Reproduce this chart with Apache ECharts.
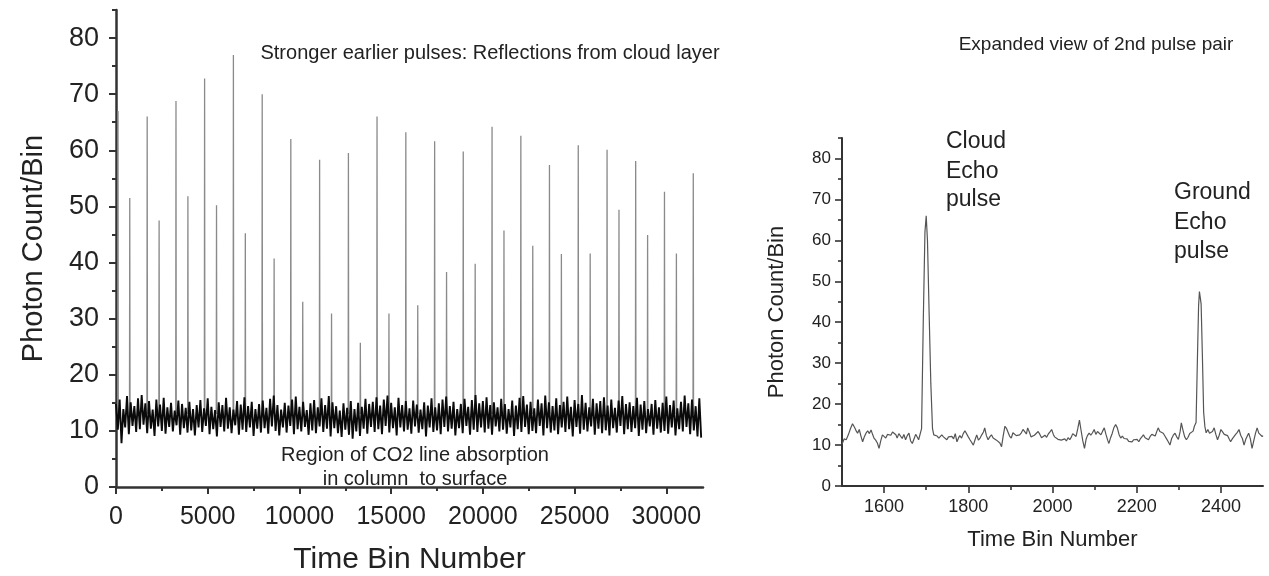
<!DOCTYPE html>
<html><head><meta charset="utf-8">
<script src="https://cdn.jsdelivr.net/npm/echarts@6.0.0/dist/echarts.min.js"></script>
<style>html,body{margin:0;padding:0;background:#fff}#c{width:1269px;height:576px}</style>
</head><body><div id="c"></div>
<script>
// ---------------- DATA ----------------
// Left panel: pulse positions (time bin) and peak photon counts
const cloudBins  = [110, 1700, 3270, 4830, 6400, 7970, 9530, 11100, 12670, 14230, 15800, 17370, 18930, 20500, 22070, 23630, 25200, 26770, 28330, 29900, 31470];
const cloudPeaks = [67, 66, 68.8, 72.8, 77, 70, 62, 58.3, 59.5, 66, 63.2, 61.6, 59.8, 64.2, 62.6, 57.4, 60.9, 60.1, 58.1, 52.6, 55.9];
const groundBins  = [750, 2350, 3920, 5480, 7050, 8620, 10180, 11750, 13320, 14880, 16450, 18020, 19580, 21150, 22720, 24280, 25850, 27420, 28980, 30550];
const groundPeaks = [51.5, 47.5, 51.8, 50.2, 45.2, 40.7, 33, 30.9, 25.7, 30.9, 32.4, 38.3, 39.8, 45.7, 43, 41.5, 41.6, 49.4, 44.9, 41.6];
const pulseBase = 13;
const pulseHalfWidth = 15;

// Left panel: background noise, upper and lower excursions (estimated), one pair per 200 bins
const noiseBinStep = 200;
const noiseHigh = [
 14.8, 15.6, 13.9, 16.2, 15.1, 14.4, 15.8, 16.4, 14.9, 15.3, 13.8, 15.6, 14.7, 15.9, 14.2, 15.0, 13.6, 15.4, 14.8, 14.1,
 15.2, 13.9, 14.6, 15.5, 14.0, 15.8, 14.3, 13.7, 15.1, 14.6, 15.9, 14.2, 13.8, 15.3, 14.7, 16.0, 14.4, 15.2, 13.9, 14.8,
 15.4, 14.1, 15.7, 16.3, 14.6, 13.8, 15.0, 14.5, 15.6, 16.1, 14.3, 15.2, 13.7, 14.9, 15.5, 14.2, 15.8, 14.6, 16.2, 15.1,
 14.4, 13.6, 14.9, 14.1, 15.3, 13.9, 15.0, 14.3, 15.7, 14.8, 15.2, 16.0, 14.5, 15.6, 16.3, 15.0, 14.2, 15.9, 14.6, 15.3,
 14.0, 15.4, 14.7, 13.8, 15.1, 14.5, 15.8, 14.2, 14.9, 15.6, 16.1, 14.4, 15.2, 13.9, 14.8, 15.7, 14.3, 15.5, 16.4, 14.9,
 15.3, 16.0, 14.6, 15.1, 14.2, 15.7, 14.8, 13.9, 15.4, 14.5, 15.9, 16.2, 14.7, 15.2, 14.0, 15.6, 14.9, 16.3, 15.1, 14.4,
 15.8, 14.6, 15.2, 16.1, 14.3, 15.5, 14.8, 16.4, 15.0, 14.2, 15.7, 14.9, 15.3, 16.0, 14.5, 15.6, 14.1, 15.4, 16.2, 14.8,
 15.1, 14.4, 15.9, 14.7, 15.3, 13.9, 14.8, 15.5, 14.2, 15.0, 16.1, 14.6, 15.4, 14.0, 15.2, 16.3, 14.9, 15.6, 14.4, 15.8
];
const noiseLow = [
 10.2, 7.8, 10.6, 9.4, 10.9, 9.8, 10.3, 11.1, 9.6, 10.4, 9.1, 10.8, 10.0, 9.5, 10.7, 9.9, 11.0, 9.3, 10.5, 9.7,
 10.1, 9.2, 10.6, 9.8, 10.9, 9.4, 10.3, 9.0, 10.7, 9.9, 10.4, 9.6, 11.0, 9.3, 10.2, 9.8, 10.6, 9.1, 10.4, 9.7,
 10.5, 9.5, 10.8, 10.0, 9.2, 10.6, 9.7, 10.9, 9.4, 10.3, 9.9, 10.7, 9.3, 10.1, 9.6, 10.8, 9.8, 10.4, 9.0, 10.5,
 9.6, 8.9, 10.2, 9.3, 8.6, 9.9, 9.1, 10.4, 9.5, 10.7, 9.8, 10.3, 9.4, 10.9, 9.7, 10.5, 9.2, 10.6, 9.9, 10.2,
 9.5, 10.8, 9.7, 10.3, 9.0, 10.6, 9.8, 10.1, 9.4, 10.7, 9.9, 10.4, 9.2, 10.5, 9.6, 10.9, 9.3, 10.2, 9.8, 10.6,
 9.7, 10.4, 9.3, 10.8, 9.9, 10.2, 9.5, 10.6, 9.1, 10.3, 9.8, 10.7, 9.4, 10.0, 9.6, 10.9, 9.2, 10.5, 9.7, 10.1,
 9.4, 10.6, 9.8, 10.3, 9.0, 10.7, 9.5, 10.2, 9.9, 10.8, 9.3, 10.4, 9.6, 10.1, 9.2, 10.5, 9.7, 10.9, 9.4, 10.3,
 9.8, 10.5, 9.1, 10.2, 9.6, 10.8, 9.3, 10.4, 9.7, 10.0, 9.5, 10.6, 9.2, 10.3, 9.9, 10.7, 9.4, 10.1, 9.0, 8.8
];

// Right panel: expanded view of the 2nd pulse pair
const rightBins = [
 1500,1505,1510,1515,1520,1525,1530,1534,1537,1541,1545,1549,1553,1557,1561,1565,1569,1573,1576,1580,
 1584,1588,1592,1596,1600,1604,1608,1612,1616,1620,1624,1628,1631,1635,1639,1643,1647,1651,1655,1659,
 1663,1667,1671,1675,1678,1682,1686,1689,1693,1697,1700,1703,1707,1711,1715,1718,1722,1726,1730,1733,
 1737,1741,1745,1749,1753,1757,1761,1765,1769,1773,1777,1780,1784,1788,1792,1796,1800,1804,1808,1812,
 1816,1820,1824,1828,1832,1836,1839,1843,1847,1851,1855,1859,1863,1867,1871,1875,1879,1883,1887,1891,
 1894,1898,1902,1906,1910,1914,1918,1922,1926,1930,1934,1938,1941,1945,1949,1953,1957,1961,1966,1970,
 1974,1978,1982,1986,1990,1994,1998,2002,2005,2009,2013,2017,2021,2025,2029,2033,2037,2041,2045,2048,
 2052,2056,2060,2064,2068,2072,2076,2080,2083,2087,2091,2095,2099,2103,2107,2111,2115,2119,2123,2127,
 2131,2134,2138,2142,2146,2150,2154,2158,2162,2166,2170,2173,2177,2181,2185,2189,2193,2197,2201,2205,
 2209,2213,2216,2220,2224,2228,2232,2236,2240,2244,2248,2251,2255,2259,2263,2267,2271,2275,2279,2283,
 2287,2291,2295,2299,2303,2306,2310,2314,2318,2322,2326,2330,2334,2337,2341,2344,2347,2349,2351,2353,
 2356,2359,2362,2365,2369,2373,2376,2380,2384,2388,2392,2396,2400,2404,2408,2412,2416,2420,2423,2427,
 2431,2435,2439,2443,2447,2451,2455,2459,2463,2466,2470,2474,2478,2482,2486,2490,2494,2498,2500
];
const rightCounts = [
 10.2,11.5,11.3,12.5,14.0,15.2,14.3,13.4,12.9,13.8,12.2,10.8,12.0,12.9,13.5,12.8,13.7,12.5,11.7,11.2,
 10.5,9.2,11.0,12.5,12.1,11.7,12.6,12.9,12.4,13.2,13.3,12.5,11.7,12.8,12.5,11.6,12.6,11.3,12.3,12.9,
 11.0,10.4,11.5,12.6,12.1,11.3,11.5,14,40,62,66,60,42,25,14,12.5,12.9,12.2,11.7,11.5,
 12.5,12.0,11.8,11.3,12.0,11.9,12.1,11.5,12.8,10.8,11.8,12.3,11.7,12.8,13.5,13.3,12.0,11.3,11.0,10.0,
 11.3,12.5,11.2,11.7,12.5,13.2,14.2,12.3,11.3,12.0,12.5,11.7,11.5,11.2,10.8,10.5,9.6,12.3,14.6,14.0,
 13.8,12.2,11.7,13.0,12.9,12.3,12.6,12.5,13.0,13.8,13.3,12.7,14.2,13.2,12.0,11.7,12.4,12.8,13.3,12.6,
 11.8,12.1,12.4,11.9,12.7,13.2,13.8,12.6,12.0,11.7,11.4,11.6,11.2,11.1,11.5,11.0,11.8,11.3,12.0,12.8,
 12.4,12.1,14.0,16.1,13.5,11.0,9.2,11.5,12.3,12.9,12.4,13.0,13.8,12.6,13.3,12.9,12.5,13.4,14.2,12.6,
 11.2,10.4,11.8,12.9,14.3,15.0,14.2,12.6,11.7,12.2,11.6,11.3,11.5,10.9,11.2,10.8,11.3,10.9,11.4,10.8,
 11.6,12.0,12.5,11.8,11.4,11.3,12.1,12.6,12.9,12.2,13.4,14.2,13.3,13.6,12.9,12.2,11.5,10.8,10.0,11.6,
 12.4,12.9,12.0,11.4,13.2,15.4,13.6,12.0,11.3,11.9,12.8,12.5,13.4,14.6,15.5,30,44,47.5,46,44.5,
 32,18,14.5,13.0,13.8,12.9,12.5,13.3,14.2,12.6,11.3,12.4,13.8,13.2,12.6,12.9,12.3,11.4,10.8,11.5,
 11.7,12.6,13.1,13.8,12.4,11.6,10.0,11.4,12.3,12.9,11.5,9.2,11.0,12.8,14.2,12.9,12.5,12.1,12.3
];

// Tick values
const leftXMajor = [0, 5000, 10000, 15000, 20000, 25000, 30000];
const leftXMinor = [2500, 7500, 12500, 17500, 22500, 27500];
const yMajor = [0, 10, 20, 30, 40, 50, 60, 70, 80];
const yMinor = [5, 15, 25, 35, 45, 55, 65, 75, 85];
const rightXMajor = [1600, 1800, 2000, 2200, 2400];
const rightXMinor = [1700, 1900, 2100, 2300];

// ---------------- BUILD ----------------
const FONT = "'Liberation Sans', Arial, Helvetica, sans-serif";
const INK = '#222';
const AX = '#333';
const plain = v => String(v);

const spikeData = [];
function addPulses(bins, peaks) {
  for (let i = 0; i < bins.length; i++) {
    spikeData.push([bins[i] - pulseHalfWidth, pulseBase]);
    spikeData.push([bins[i], peaks[i]]);
    spikeData.push([bins[i] + pulseHalfWidth, pulseBase]);
    spikeData.push([bins[i] + pulseHalfWidth + 1, '-']);
  }
}
addPulses(cloudBins, cloudPeaks);
addPulses(groundBins, groundPeaks);
spikeData.sort((a, b) => a[0] - b[0]);

const noiseData = [];
for (let i = 0; i < noiseHigh.length; i++) {
  noiseData.push([i * noiseBinStep, noiseHigh[i]]);
  noiseData.push([i * noiseBinStep + noiseBinStep / 2, noiseLow[i]]);
}
const rightData = rightBins.map((b, i) => [b, rightCounts[i]]);

function mainX(grid, min, max, major, fs, margin, name, nameFs, nameGap, lw) {
  return {
    gridIndex: grid, type: 'value', min: min, max: max, position: 'bottom',
    axisLine: { show: true, onZero: false, lineStyle: { color: AX, width: lw } },
    axisTick: { show: true, customValues: major, length: 7, lineStyle: { color: AX, width: lw * 0.8 } },
    axisLabel: { customValues: major, formatter: plain, fontSize: fs, color: INK, margin: margin, fontFamily: FONT },
    splitLine: { show: false },
    name: name, nameLocation: 'middle', nameGap: nameGap,
    nameTextStyle: { fontSize: nameFs, color: INK, fontFamily: FONT }
  };
}
function minorX(grid, min, max, minor, lw) {
  return {
    gridIndex: grid, type: 'value', min: min, max: max, position: 'bottom',
    axisLine: { show: false, onZero: false },
    axisTick: { show: true, customValues: minor, length: 4, lineStyle: { color: AX, width: lw * 0.8 } },
    axisLabel: { show: false }, splitLine: { show: false }
  };
}
function mainY(grid, fs, margin, nameFs, nameGap, lw) {
  return {
    gridIndex: grid, type: 'value', min: 0, max: 85, position: 'left',
    axisLine: { show: true, onZero: false, lineStyle: { color: AX, width: lw } },
    axisTick: { show: true, customValues: yMajor, length: 7, lineStyle: { color: AX, width: lw * 0.8 } },
    axisLabel: { customValues: yMajor, formatter: plain, fontSize: fs, color: INK, margin: margin, fontFamily: FONT },
    splitLine: { show: false },
    name: 'Photon Count/Bin', nameLocation: 'middle', nameRotate: 90, nameGap: nameGap,
    nameTextStyle: { fontSize: nameFs, color: INK, fontFamily: FONT }
  };
}
function minorY(grid, lw) {
  return {
    gridIndex: grid, type: 'value', min: 0, max: 85, position: 'left',
    axisLine: { show: false, onZero: false },
    axisTick: { show: true, customValues: yMinor, length: 4, lineStyle: { color: AX, width: lw * 0.8 } },
    axisLabel: { show: false }, splitLine: { show: false }
  };
}

function txt(s, x, y, fs, align) {
  return { type: 'text', x: x, y: y, silent: true,
    style: { text: s, fill: INK, font: fs + 'px ' + FONT, align: align || 'center', verticalAlign: 'middle' } };
}

const option = {
  animation: false,
  backgroundColor: '#fff',
  grid: [
    { left: 116, top: 10, width: 587, height: 477, outerBoundsMode: 'none', containLabel: false },
    { left: 842, top: 138, width: 421, height: 348, outerBoundsMode: 'none', containLabel: false }
  ],
  xAxis: [
    mainX(0, 0, 32000, leftXMajor, 25, 18, 'Time Bin Number', 30, 58, 2.5),
    minorX(0, 0, 32000, leftXMinor, 2.5),
    mainX(1, 1500, 2500, rightXMajor, 18, 12, 'Time Bin Number', 22, 43, 2),
    minorX(1, 1500, 2500, rightXMinor, 2)
  ],
  yAxis: [
    mainY(0, 27, 17, 29, 68, 2.5),
    minorY(0, 2.5),
    mainY(1, 17, 11, 22, 54, 2),
    minorY(1, 2)
  ],
  series: [
    { type: 'line', xAxisIndex: 0, yAxisIndex: 0, data: spikeData, showSymbol: false, silent: true,
      connectNulls: false, lineStyle: { color: '#8a8a8a', width: 1.3 } },
    { type: 'line', xAxisIndex: 0, yAxisIndex: 0, data: noiseData, showSymbol: false, silent: true,
      lineStyle: { color: '#0a0a0a', width: 1.9 } },
    { type: 'line', xAxisIndex: 2, yAxisIndex: 2, data: rightData, showSymbol: false, silent: true,
      lineStyle: { color: '#555', width: 1.2 } }
  ],
  graphic: [
    txt('Stronger earlier pulses: Reflections from cloud layer', 490, 53, 20),
    txt('Region of CO2 line absorption', 415, 455, 20),
    txt('in column  to surface', 415, 479, 20),
    txt('Expanded view of 2nd pulse pair', 1096, 45, 19),
    txt('Cloud', 946, 142, 23, 'left'),
    txt('Echo', 946, 172, 23, 'left'),
    txt('pulse', 946, 200, 23, 'left'),
    txt('Ground', 1174, 193, 23, 'left'),
    txt('Echo', 1174, 223, 23, 'left'),
    txt('pulse', 1174, 252, 23, 'left')
  ]
};

const chart = echarts.init(document.getElementById('c'), null, { renderer: 'canvas' });
chart.setOption(option);
</script></body></html>
